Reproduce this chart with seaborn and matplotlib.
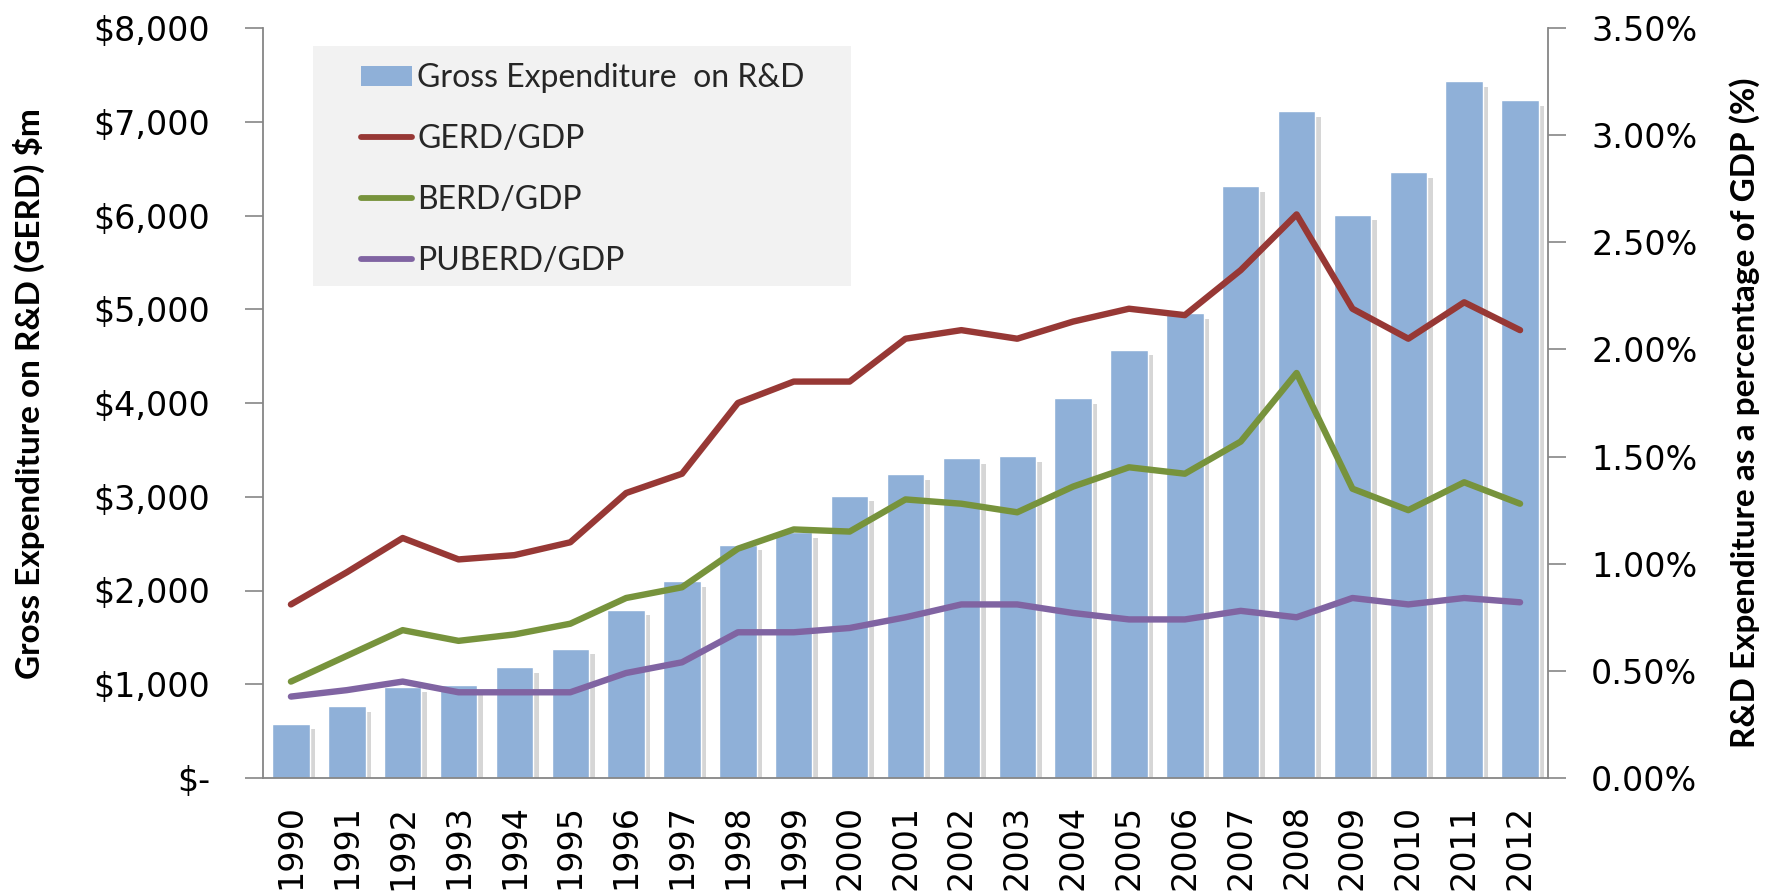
import numpy as np
import pandas as pd
import matplotlib
matplotlib.use("Agg")
import matplotlib.pyplot as plt
import seaborn as sns
from matplotlib.ticker import FuncFormatter, FixedLocator
import matplotlib.patheffects as pe
from matplotlib.lines import Line2D
from matplotlib.patches import Patch, Rectangle

# ---------------- data ----------------
years = [str(y) for y in range(1990, 2013)]
gerd_musd = [580, 765, 975, 995, 1180, 1380, 1795, 2100, 2490, 2620, 3010, 3240,
             3410, 3430, 4050, 4570, 4960, 6310, 7110, 6010, 6460, 7430, 7230]
gerd_gdp = [0.81, 0.96, 1.12, 1.02, 1.04, 1.10, 1.33, 1.42, 1.75, 1.85, 1.85, 2.05,
            2.09, 2.05, 2.13, 2.19, 2.16, 2.37, 2.63, 2.19, 2.05, 2.22, 2.09]
berd_gdp = [0.45, 0.57, 0.69, 0.64, 0.67, 0.72, 0.84, 0.89, 1.07, 1.16, 1.15, 1.30,
            1.28, 1.24, 1.36, 1.45, 1.42, 1.57, 1.89, 1.35, 1.25, 1.38, 1.28]
puberd_gdp = [0.38, 0.41, 0.45, 0.40, 0.40, 0.40, 0.49, 0.54, 0.68, 0.68, 0.70, 0.75,
              0.81, 0.81, 0.77, 0.74, 0.74, 0.78, 0.75, 0.84, 0.81, 0.84, 0.82]
legend_labels = ["Gross Expenditure  on R&D", "GERD/GDP", "BERD/GDP", "PUBERD/GDP"]

bar_color = "#8FB0D8"
line_colors = ["#973835", "#77933C", "#8064A2"]
axis_gray = "#868686"

# ---------------- style ----------------
sns.set_style("white")
plt.rcParams["font.family"] = ["DejaVu Sans"]
title_font = ["Lato", "DejaVu Sans"]

W, H = 1776, 894
fig = plt.figure(figsize=(W / 100, H / 100), dpi=100)
ax = fig.add_axes([263 / W, 1 - 778 / H, (1548 - 263) / W, (778 - 28) / H])

df = pd.DataFrame({"year": years, "gerd": gerd_musd})
sns.barplot(data=df, x="year", y="gerd", ax=ax, color=bar_color, saturation=1,
            width=0.67, zorder=2)
for p in ax.patches:
    p.set_path_effects([pe.SimplePatchShadow(offset=(4, -4), shadow_rgbFace="#8a8a8a", alpha=0.35),
                        pe.Normal()])

ax.set_ylim(0, 8000)
ax.set_xlim(-0.5, len(years) - 0.5)
ax.yaxis.set_major_locator(FixedLocator(np.arange(0, 8001, 1000)))
ax.yaxis.set_major_formatter(FuncFormatter(lambda v, p: "$-" if v == 0 else f"${v:,.0f}"))

ax2 = ax.twinx()
xpos = np.arange(len(years))
for vals, c in zip([gerd_gdp, berd_gdp, puberd_gdp], line_colors):
    sns.lineplot(x=xpos, y=vals, ax=ax2, color=c, linewidth=4.6, legend=False)
for ln in ax2.lines:
    ln.set_solid_capstyle("round")
    ln.set_solid_joinstyle("round")
ax2.set_ylim(0, 3.5)
ax2.yaxis.set_major_locator(FixedLocator(np.arange(0, 3.51, 0.5)))
ax2.yaxis.set_major_formatter(FuncFormatter(lambda v, p: f"{v:.2f}%"))
ax2.set_xlim(-0.5, len(years) - 0.5)

# x ticks: labels at centres, tick marks at boundaries
ax.set_xticks(xpos)
ax.set_xticklabels(years, rotation=90)
ax.set_xticks(np.arange(-0.5, len(years)), minor=True)
ax.tick_params(axis="x", which="major", length=0, pad=19, labelsize=24, labelcolor="black")
ax.tick_params(axis="x", which="minor", length=13, width=1.2, color=axis_gray, direction="out")
ax.tick_params(axis="y", which="major", length=13, width=1.2, color=axis_gray, pad=25,
               labelsize=24, labelcolor="black", left=True, direction="out")
ax2.tick_params(axis="y", which="major", length=13, width=1.2, color=axis_gray, pad=18,
                labelsize=24, labelcolor="black", right=True, direction="out")
ax.grid(False)
ax2.grid(False)

for s in ["top", "right"]:
    ax.spines[s].set_visible(False)
for s in ["left", "bottom"]:
    ax.spines[s].set_color(axis_gray)
    ax.spines[s].set_linewidth(1.3)
for s in ["top", "left", "bottom"]:
    ax2.spines[s].set_visible(False)
ax2.spines["right"].set_color(axis_gray)
ax2.spines["right"].set_linewidth(1.3)

ax.set_xlabel("")
ax.set_ylabel("Gross Expenditure on R&D (GERD) $m", family=title_font,
              fontweight="bold", fontsize=24, color="black")
ax.yaxis.set_label_coords((45 - 263) / 1285, 0.512)
ax2.set_ylabel("R&D Expenditure as a percentage of GDP (%)", family=title_font,
               fontweight="bold", fontsize=24, color="black")
ax2.yaxis.set_label_coords((1729 - 263) / 1285, 0.487)

# legend with grey box
fig.patches.append(Rectangle((313 / W, 1 - 286 / H), (851 - 313) / W, 240 / H,
                             transform=fig.transFigure,
                             facecolor="#F2F2F2", edgecolor="none", zorder=2))
handles = [Patch(facecolor=bar_color, edgecolor="none")] + [
    Line2D([], [], color=c, linewidth=4.2, solid_capstyle="round") for c in line_colors]
fig.legend(handles, legend_labels, loc="upper left", bbox_to_anchor=(361 / W, 1 - 63 / H),
           frameon=False, prop={"family": title_font, "size": 23},
           handlelength=1.6, handleheight=0.57, handletextpad=0.16, labelspacing=0.97,
           borderpad=0, borderaxespad=0)

fig.savefig("out.png", dpi=100)
